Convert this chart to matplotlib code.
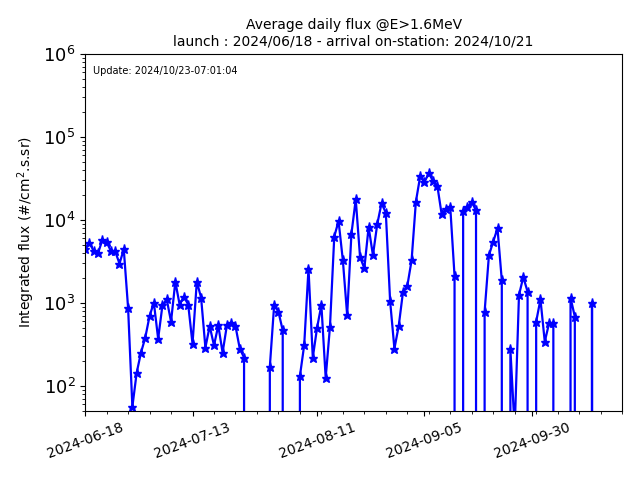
import numpy as np
import pandas as pd
import matplotlib
matplotlib.use("Agg")
import matplotlib.pyplot as plt
import matplotlib.dates as mdates
from matplotlib.ticker import FixedLocator

# daily mean flux, one value per day from launch (0 = no valid data that day)
start_day = "2024-06-18"
flux = [
    4410, 5310, 4210, 3950, 5710, 5400, 4210, 4170, 2970, 4410,
    875, 56, 144, 251, 381, 693, 1005, 370, 933, 1102,
    593, 1800, 951, 1188, 951, 322, 1800, 1155, 289, 525,
    307, 535, 251, 535, 577, 525, 281, 219, 0, 0,
    0, 0, 0, 170, 933, 783, 466, 0, 0, 0,
    131, 310, 2583, 219, 503, 940, 125, 517, 6280, 9680,
    3250, 713, 6820, 17660, 3563, 2605, 8190, 3735, 8830, 15800,
    12200, 1052, 281, 525, 1357, 1593, 3250, 16560, 33420, 28530,
    36340, 29330, 25540, 11650, 13390, 14260, 2103, 0, 12770, 14260,
    16380, 13010, 0, 783, 3735, 5460, 7900, 1867, 0, 275,
    30, 1242, 2046, 1364, 0, 593, 1102, 341, 566, 566,
    0, 0, 0, 1155, 682, 0, 0, 0, 1005, 0,
    0, 0,
]
major_days = ["2024-06-18", "2024-07-13", "2024-08-11", "2024-09-05", "2024-09-30"]
x_end = "2024-10-21"
update_txt = "Update: 2024/10/23-07:01:04"

dates = pd.date_range(start_day, periods=len(flux), freq="D")

fig, ax = plt.subplots(figsize=(6.4, 4.8), dpi=100)
fig.subplots_adjust(left=0.133, right=0.972, top=0.888, bottom=0.144)

ax.plot(dates, flux, "b*-", linewidth=1.6, markersize=6.5)
ax.set_yscale("log")
ax.set_ylim(50, 1e6)
ax.set_xlim(pd.Timestamp(start_day), pd.Timestamp(x_end))

ax.xaxis.set_major_locator(FixedLocator(mdates.date2num(pd.to_datetime(major_days))))
ax.xaxis.set_minor_locator(FixedLocator(mdates.date2num(pd.date_range(start_day, x_end, freq="5D"))))
ax.xaxis.set_major_formatter(mdates.DateFormatter("%Y-%m-%d"))
plt.setp(ax.get_xticklabels(), rotation=20, fontsize=10)
ax.tick_params(axis="y", which="major", labelsize=13)

ax.set_ylabel("Integrated flux (#/cm$^2$.s.sr)", fontsize=10)
ax.set_title("Average daily flux @E>1.6MeV\nlaunch : 2024/06/18 - arrival on-station: 2024/10/21", fontsize=10)
ax.text(0.015, 0.965, update_txt, transform=ax.transAxes, fontsize=7, va="top")

fig.savefig("out.png", dpi=100)
